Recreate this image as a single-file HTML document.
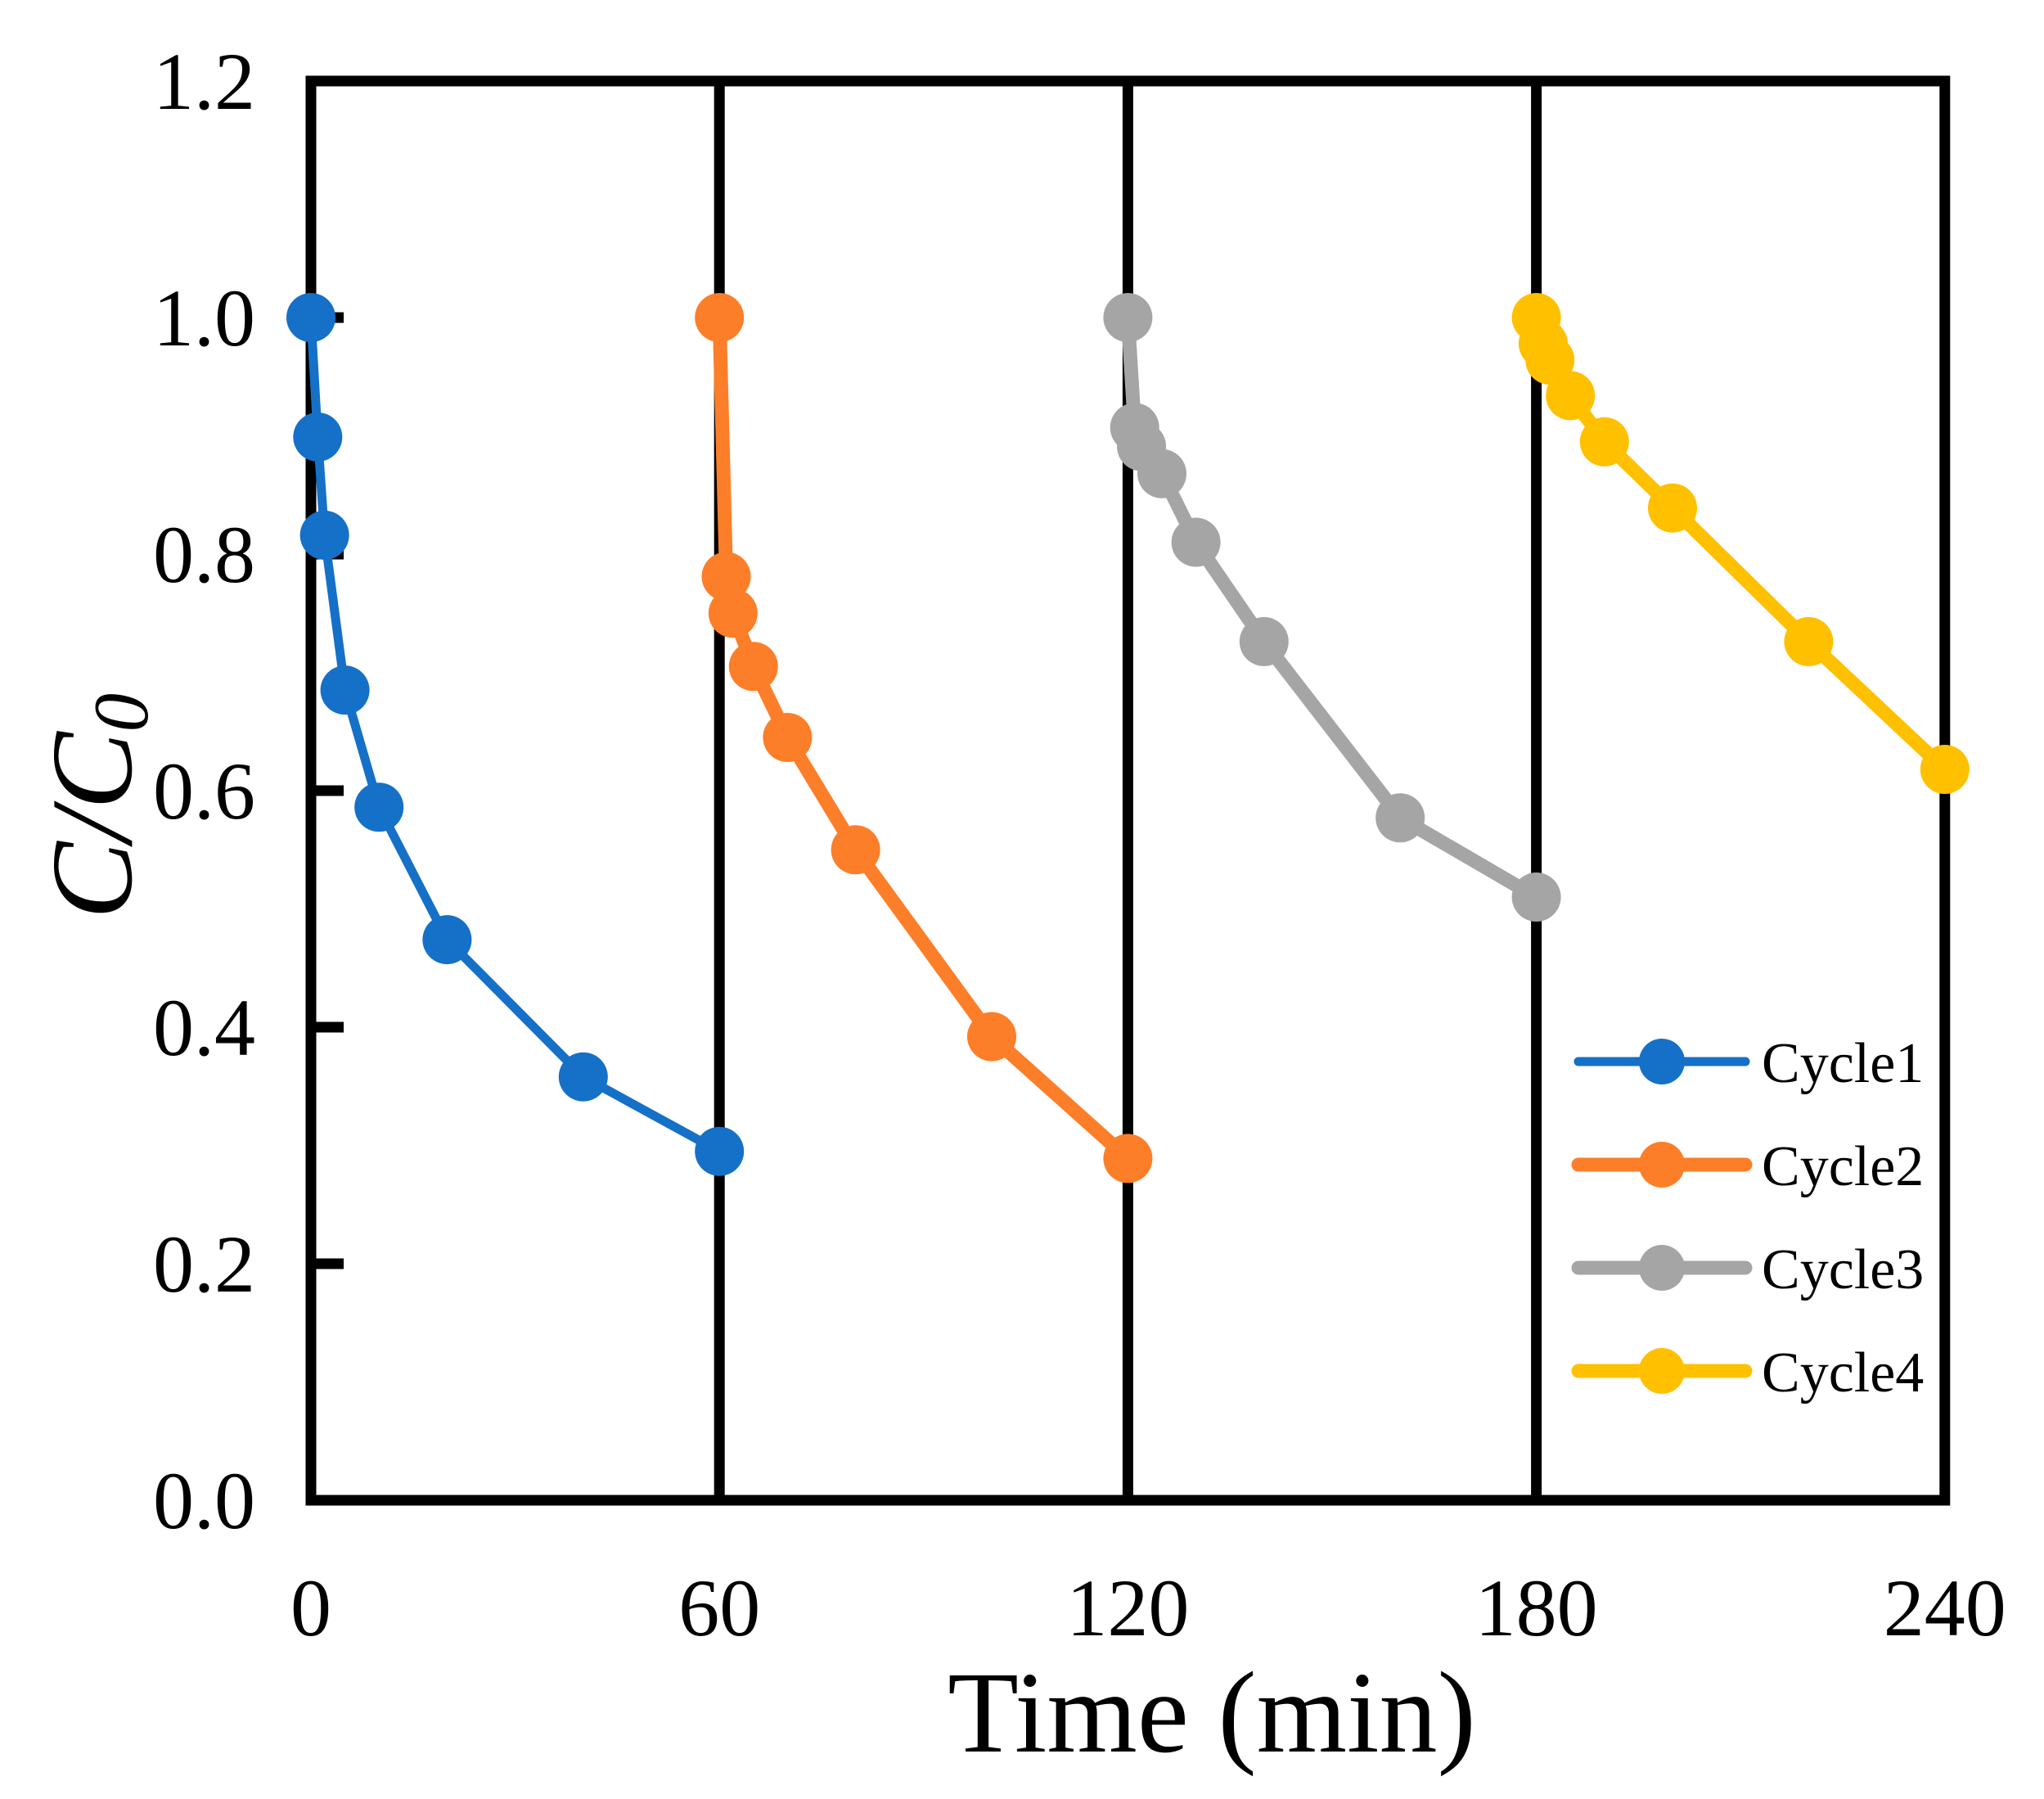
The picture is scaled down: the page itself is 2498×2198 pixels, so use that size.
<!DOCTYPE html>
<html><head><meta charset="utf-8"><style>
html,body{margin:0;padding:0;background:#fff;}
svg{display:block;}
</style></head><body>
<svg id="c" width="2498" height="2198" viewBox="0 0 2498 2198" xmlns="http://www.w3.org/2000/svg" font-family="'Liberation Serif', serif">
<rect width="2498" height="2198" fill="#fff"/>
<g id="g"></g>
</svg>
<script>
const X=t=>380+t*8.32, Y=v=>1833-v*1445;
let s='';
s+=`<rect x="380" y="${Y(1.2)}" width="${X(240)-380}" height="${Y(0)-Y(1.2)}" fill="none" stroke="#000" stroke-width="13"/>`;
[60,120,180].forEach(t=>{s+=`<line x1="${X(t)}" y1="${Y(1.2)}" x2="${X(t)}" y2="${Y(0)}" stroke="#000" stroke-width="13"/>`;});
[0.2,0.4,0.6,0.8,1.0].forEach(v=>{s+=`<line x1="380" y1="${Y(v)}" x2="420" y2="${Y(v)}" stroke="#000" stroke-width="13"/>`;});
[0,0.2,0.4,0.6,0.8,1.0,1.2].forEach(v=>{s+=`<text x="312" y="${Y(v)+34}" font-size="100" text-anchor="end">${v.toFixed(1)}</text>`;});
[0,60,120,180,240].forEach(t=>{s+=`<text x="${X(t)}" y="1998" font-size="100" text-anchor="middle">${t}</text>`;});
s+=`<text x="1481" y="2140" font-size="142" text-anchor="middle">Time (min)</text>`;
s+=`<text transform="translate(160,985) rotate(-90)" font-size="142" font-style="italic" text-anchor="middle">C/C<tspan font-size="95" dy="20">0</tspan></text>`;
const data=[
 ['#1570c8',11,[[0,1],[1,0.899],[2,0.816],[5,0.685],[10,0.586],[20,0.474],[40,0.358],[60,0.295]]],
 ['#fd7e28',17,[[60,1],[61,0.781],[62,0.75],[65,0.705],[70,0.645],[80,0.55],[100,0.392],[120,0.289]]],
 ['#a5a5a5',17,[[120,1],[121,0.907],[122,0.891],[125,0.868],[130,0.81],[140,0.726],[160,0.577],[180,0.51]]],
 ['#ffc000',17,[[180,1],[181,0.978],[182,0.964],[185,0.934],[190,0.895],[200,0.839],[220,0.726],[240,0.618]]]
];
data.forEach(([c,w,p],i)=>{
 s+=`<polyline points="${p.map(q=>X(q[0])+','+Y(q[1])).join(' ')}" fill="none" stroke="${c}" stroke-width="${w}" stroke-linejoin="round"/>`;
 p.forEach(q=>{s+=`<circle cx="${X(q[0])}" cy="${Y(q[1])}" r="30" fill="${c}"/>`;});
 const ly=1297+i*126;
 s+=`<line x1="1929" y1="${ly}" x2="2133" y2="${ly}" stroke="${c}" stroke-width="${w}" stroke-linecap="round"/>`;
 s+=`<circle cx="2031" cy="${ly}" r="28" fill="${c}"/>`;
 s+=`<text x="2153" y="${ly+25}" font-size="70">Cycle${i+1}</text>`;
});
document.getElementById('g').innerHTML=s;
</script>
</body></html>
